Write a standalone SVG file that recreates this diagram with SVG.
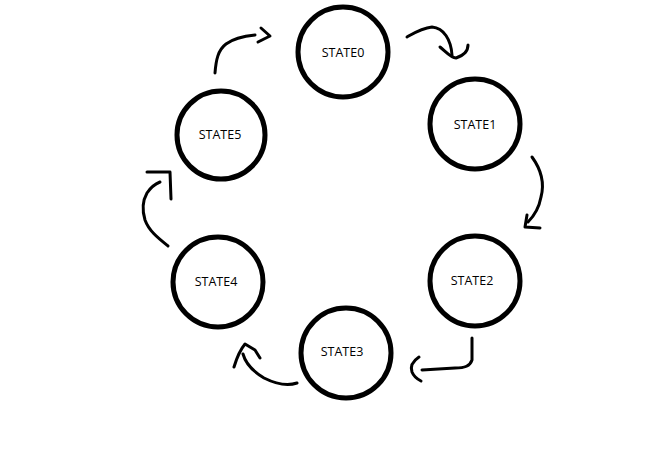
<svg xmlns="http://www.w3.org/2000/svg" width="652" height="463" viewBox="0 0 652 463">
<style>
.st circle{fill:#fff;stroke:#000;stroke-width:5}
.st text{font-family:"Open Sans","Noto Sans",sans-serif;font-size:12.5px;fill:#000;text-anchor:middle}
.cn path{fill:none;stroke:#000;stroke-width:3;stroke-linecap:round;stroke-linejoin:round}
</style>
<rect width="652" height="463" fill="#fff"/>
<g id="connectors" class="cn">
<path d="M215,73 C216,60 218,50 226,44 C234,38 245,36 255,35"/>
<path d="M261,28 L270,36 L258,42"/>
<path d="M407,37 C414,33 422,28 432,27 C444,28 451,40 452,55"/>
<path d="M440,47 C446,52 451,58 456,58 C462,56 468,52 468,45"/>
<path d="M532,157 C540,168 545,182 541,197 C539,208 534,216 528,222"/>
<path d="M527,215 L525,227 L540,228"/>
<path d="M472,338 L472,360 C470,366 465,368 455,368 L422,370"/>
<path d="M419,357 C413,361 410,366 412,372 C414,377 417,379 421,381"/>
<path d="M297,383 C288,386 276,384 264,378 C254,372 246,365 243,354"/>
<path d="M234,367 C237,357 240,350 245,344 L255,350 L260,358"/>
<path d="M168,246 C158,238 149,231 145,220 C142,210 143,200 147,193 C151,187 155,184 160,182"/>
<path d="M147,172 L170,172 L171,199"/>
</g>
<g id="state0" class="st"><circle cx="343" cy="52" r="45"/><text x="343" y="57">STATE0</text></g>
<g id="state1" class="st"><circle cx="475" cy="124" r="45"/><text x="475" y="129">STATE1</text></g>
<g id="state2" class="st"><circle cx="475" cy="281" r="45"/><text x="472" y="285">STATE2</text></g>
<g id="state3" class="st"><circle cx="346" cy="353" r="45"/><text x="342" y="356">STATE3</text></g>
<g id="state4" class="st"><circle cx="218" cy="282" r="45"/><text x="216" y="286">STATE4</text></g>
<g id="state5" class="st"><circle cx="221" cy="135" r="44"/><text x="220" y="139">STATE5</text></g>
</svg>
